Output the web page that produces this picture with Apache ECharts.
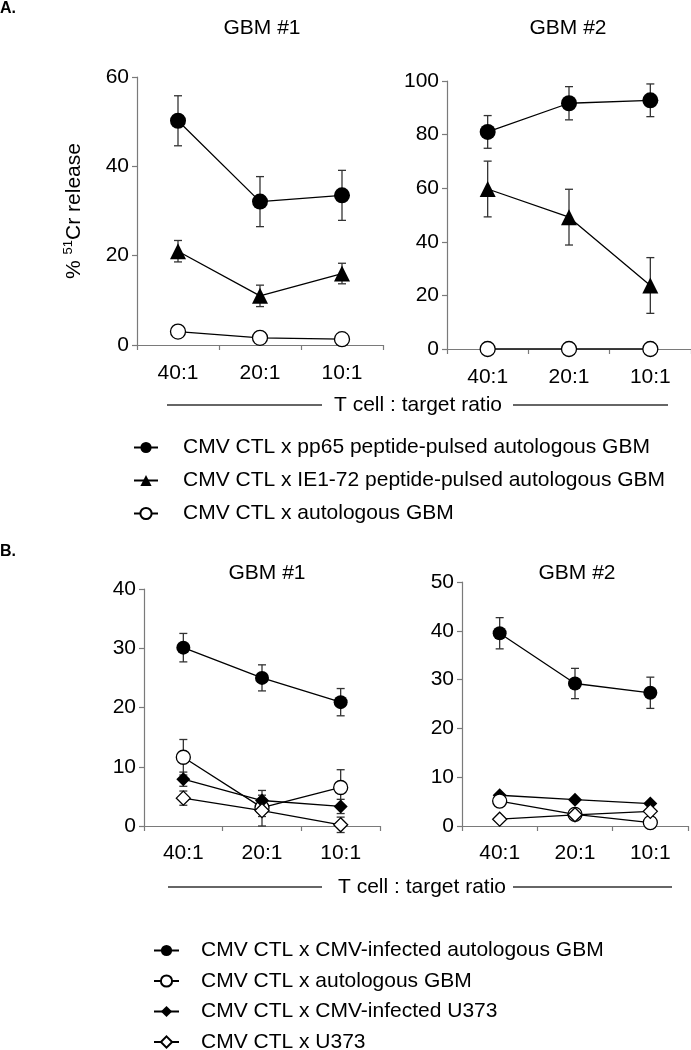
<!DOCTYPE html>
<html>
<head>
<meta charset="utf-8">
<script src="https://cdn.jsdelivr.net/npm/echarts@6/dist/echarts.min.js"></script>
<style>
html,body{margin:0;padding:0;background:#fff;}
#c{width:691px;height:1050px;}
</style>
</head>
<body>
<div id="c"></div>
<script>
// ---- data ----
const categories = ['40:1', '20:1', '10:1'];

// Panel A names
const nameA_pp65 = 'CMV CTL x pp65 peptide-pulsed autologous GBM';
const nameA_ie1 = 'CMV CTL x IE1-72 peptide-pulsed autologous GBM';
const nameAuto = 'CMV CTL x autologous GBM';
// Panel B names
const nameB_cmv = 'CMV CTL x CMV-infected autologous GBM';
const nameB_inf = 'CMV CTL x CMV-infected U373';
const nameB_u373 = 'CMV CTL x U373';

// Panel A, GBM #1
const a1_pp65 = [50.2, 32.1, 33.5];
const a1_pp65Err = [5.6, 5.6, 5.6];
const a1_ie1 = [21.0, 11.0, 16.0];
const a1_ie1Err = [2.4, 2.4, 2.3];
const a1_auto = [3.0, 1.6, 1.3];

// Panel A, GBM #2
const a2_pp65 = [81.0, 91.7, 92.8];
const a2_pp65Err = [6.1, 6.2, 6.1];
const a2_ie1 = [59.7, 49.2, 23.7];
const a2_ie1Err = [10.4, 10.4, 10.4];
const a2_auto = [0, 0, 0];

// Panel B, GBM #1
const b1_cmv = [30.1, 25.0, 20.9];
const b1_cmvErr = [2.4, 2.2, 2.3];
const b1_auto = [11.6, 3.1, 6.5];
const b1_autoErr = [3.0, 1.5, 3.0];
const b1_inf = [7.9, 4.3, 3.3];
const b1_infErr = [1.2, 1.7, 1.2];
const b1_u373 = [4.7, 2.6, 0.2];
const b1_u373Err = [1.2, 2.6, 1.3];

// Panel B, GBM #2
const b2_cmv = [39.5, 29.2, 27.3];
const b2_cmvErr = [3.2, 3.1, 3.2];
const b2_inf = [6.3, 5.4, 4.6];
const b2_auto = [5.1, 2.4, 0.7];
const b2_u373 = [1.4, 2.3, 3.0];

// y axis ranges
const yA1 = {min: 0, max: 60, interval: 20};
const yA2 = {min: 0, max: 100, interval: 20};
const yB1 = {min: 0, max: 40, interval: 10};
const yB2 = {min: 0, max: 50, interval: 10};

// ---- chart ----
const FONT = '"Liberation Sans", Arial, sans-serif';
const FS = 21;
const AXIS_GRAY = '#7a7a7a';

const chart = echarts.init(document.getElementById('c'), null, {renderer: 'canvas'});

function xAxis(gi, margin) {
  return {
    type: 'category', gridIndex: gi, data: categories, boundaryGap: true,
    axisLine: {show: true, lineStyle: {color: AXIS_GRAY, width: 1.2}},
    axisTick: {show: true, inside: false, length: 5, alignWithLabel: false, lineStyle: {color: AXIS_GRAY, width: 1.2}},
    axisLabel: {color: '#000', fontSize: FS, fontFamily: FONT, margin: margin},
    splitLine: {show: false}
  };
}
function yAxis(gi, r, extra) {
  return Object.assign({
    type: 'value', gridIndex: gi, min: r.min, max: r.max, interval: r.interval,
    axisLine: {show: true, lineStyle: {color: AXIS_GRAY, width: 1.2}},
    axisTick: {show: true, inside: false, length: 5, lineStyle: {color: AXIS_GRAY, width: 1.2}},
    axisLabel: {color: '#000', fontSize: FS, fontFamily: FONT, margin: 8},
    splitLine: {show: false}
  }, extra || {});
}

function errRender(params, api) {
  const x = api.value(0), lo = api.value(1), hi = api.value(2);
  const t = api.coord([x, hi]);
  const b = api.coord([x, lo]);
  const w = 4;
  const st = {stroke: '#333', lineWidth: 1.3};
  return {type: 'group', children: [
    {type: 'line', shape: {x1: t[0], y1: t[1], x2: b[0], y2: b[1]}, style: st},
    {type: 'line', shape: {x1: t[0] - w, y1: t[1], x2: t[0] + w, y2: t[1]}, style: st},
    {type: 'line', shape: {x1: b[0] - w, y1: b[1], x2: b[0] + w, y2: b[1]}, style: st}
  ]};
}
function errSeries(gi, vals, errs) {
  const data = vals.map((v, i) => [i, v - errs[i], v + errs[i]]);
  return {type: 'custom', xAxisIndex: gi, yAxisIndex: gi, renderItem: errRender, data: data, z: 2, silent: true};
}
function lineSeries(gi, name, vals, symbol, size, filled) {
  return {
    type: 'line', name: name, xAxisIndex: gi, yAxisIndex: gi, data: vals,
    symbol: symbol, symbolSize: size, showAllSymbol: true, z: 3,
    lineStyle: {color: '#000', width: 1.3},
    itemStyle: filled ? {color: '#000', borderWidth: 0} : {color: '#fff', borderColor: '#000', borderWidth: 1.3},
    emphasis: {disabled: true}, animation: false
  };
}

const series = [
  errSeries(0, a1_pp65, a1_pp65Err),
  errSeries(0, a1_ie1, a1_ie1Err),
  lineSeries(0, nameA_pp65, a1_pp65, 'circle', 16, true),
  lineSeries(0, nameA_ie1, a1_ie1, 'triangle', 16, true),
  lineSeries(0, nameAuto, a1_auto, 'circle', 15, false),

  errSeries(1, a2_pp65, a2_pp65Err),
  errSeries(1, a2_ie1, a2_ie1Err),
  lineSeries(1, nameA_pp65, a2_pp65, 'circle', 16, true),
  lineSeries(1, nameA_ie1, a2_ie1, 'triangle', 16, true),
  lineSeries(1, nameAuto, a2_auto, 'circle', 15, false),

  errSeries(2, b1_cmv, b1_cmvErr),
  errSeries(2, b1_auto, b1_autoErr),
  errSeries(2, b1_inf, b1_infErr),
  errSeries(2, b1_u373, b1_u373Err),
  lineSeries(2, nameB_cmv, b1_cmv, 'circle', 14, true),
  lineSeries(2, nameAuto, b1_auto, 'circle', 14, false),
  lineSeries(2, nameB_inf, b1_inf, 'diamond', 14, true),
  lineSeries(2, nameB_u373, b1_u373, 'diamond', 14, false),

  errSeries(3, b2_cmv, b2_cmvErr),
  lineSeries(3, nameB_cmv, b2_cmv, 'circle', 14, true),
  lineSeries(3, nameB_inf, b2_inf, 'diamond', 14, true),
  lineSeries(3, nameAuto, b2_auto, 'circle', 14, false),
  lineSeries(3, nameB_u373, b2_u373, 'diamond', 14, false)
];

function ttl(text, x, y, bold, size) {
  return {text: text, left: x, top: y, textAlign: bold ? 'left' : 'center', textVerticalAlign: 'middle', padding: 0,
    textStyle: {fontFamily: FONT, fontSize: size || FS, fontWeight: bold ? 'bold' : 'normal', color: '#000'}};
}

function ratioGraphic(y, l1, l2, tx, r1, r2) {
  const st = {stroke: '#333', lineWidth: 1.3};
  return [
    {type: 'line', shape: {x1: l1, y1: y, x2: l2, y2: y}, style: st},
    {type: 'text', x: tx, y: y, style: {text: 'T cell : target ratio', font: FS + 'px ' + FONT, fill: '#000', align: 'center', verticalAlign: 'middle'}},
    {type: 'line', shape: {x1: r1, y1: y, x2: r2, y2: y}, style: st}
  ];
}

const option = {
  animation: false,
  backgroundColor: '#fff',
  title: [
    ttl('A.', 0, 9, true, 16),
    ttl('B.', 0, 552, true, 16),
    ttl('GBM #1', 262, 28),
    ttl('GBM #2', 568, 28),
    ttl('GBM #1', 267, 573),
    ttl('GBM #2', 577, 573)
  ],
  grid: [
    {left: 137, top: 77, width: 246, height: 268},
    {left: 447, top: 81, width: 244, height: 268},
    {left: 144, top: 589, width: 236, height: 237},
    {left: 462, top: 582, width: 226, height: 244}
  ],
  xAxis: [xAxis(0, 18), xAxis(1, 18), xAxis(2, 17), xAxis(3, 17)],
  yAxis: [
    yAxis(0, yA1, {
      name: '{t|% }{s|51}{t|Cr release}', nameLocation: 'middle', nameRotate: 90, nameGap: 51,
      nameTextStyle: {fontFamily: FONT, color: '#000', rich: {
        t: {fontSize: FS, fontFamily: FONT, color: '#000', lineHeight: 24},
        s: {fontSize: 13, fontFamily: FONT, color: '#000', lineHeight: 13, verticalAlign: 'top'}
      }}
    }),
    yAxis(1, yA2), yAxis(2, yB1), yAxis(3, yB2)
  ],
  legend: [
    {
      orient: 'vertical', left: 133, top: 437, height: 150, padding: 0,
      itemWidth: 24, itemHeight: 14, itemGap: 12,
      selectedMode: false, data: [nameA_pp65, nameA_ie1, nameAuto],
      textStyle: {fontFamily: FONT, fontSize: FS, color: '#000', padding: [0, 0, 0, 20]}
    },
    {
      orient: 'vertical', left: 153, top: 940, height: 150, padding: 0,
      itemWidth: 25, itemHeight: 14, itemGap: 9.5,
      selectedMode: false, data: [nameB_cmv, nameAuto, nameB_inf, nameB_u373],
      textStyle: {fontFamily: FONT, fontSize: FS, color: '#000', padding: [0, 0, 0, 17]}
    }
  ],
  graphic: [].concat(
    ratioGraphic(405, 167, 322, 418, 513, 668),
    ratioGraphic(887, 168, 322, 422, 513, 672)
  ),
  series: series
};
chart.setOption(option);
</script>
</body>
</html>
